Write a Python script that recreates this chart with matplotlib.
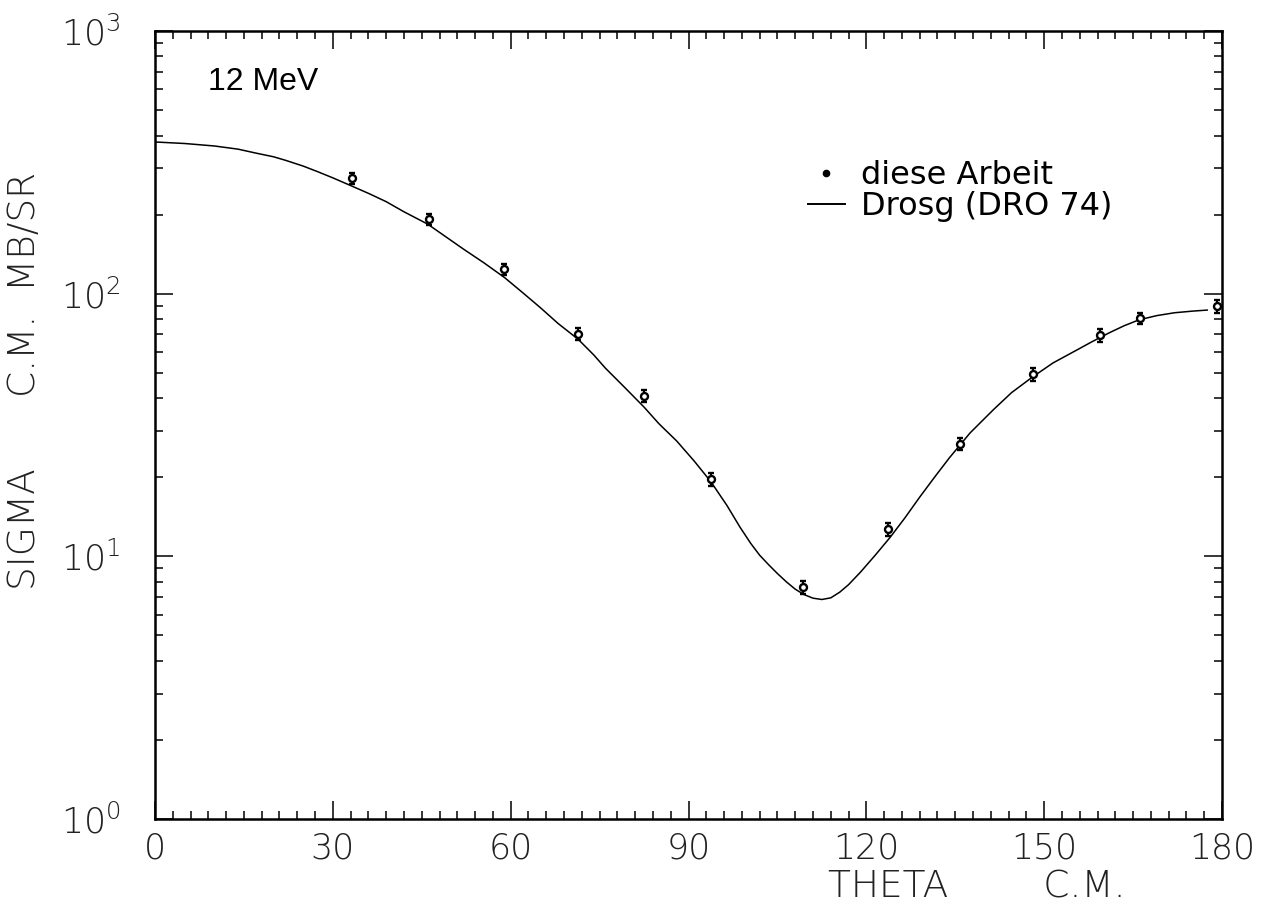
import math

import matplotlib
matplotlib.use("Agg")
import matplotlib.pyplot as plt
from matplotlib.lines import Line2D
from matplotlib.ticker import FixedLocator, LogLocator, NullFormatter, FuncFormatter

# measured cross sections, 12 MeV
theta = [33.2, 46.2, 58.9, 71.4, 82.5, 93.8, 109.3, 123.6, 135.8, 148.1, 159.4, 166.2, 179.2]
sigma = [275, 192, 124, 70.2, 40.8, 19.7, 7.64, 12.7, 26.8, 49.4, 69.5, 80.7, 89.7]
sigma_err = [13, 9, 6, 3.5, 2.2, 1.1, 0.45, 0.7, 1.5, 2.8, 3.8, 4.0, 5.0]

# Drosg (DRO 74) curve
curve_theta = [0, 5, 10, 14, 17, 20, 22, 25, 27.5, 30, 33, 36, 39, 42, 46, 49, 52, 55.5, 59,
               62, 65, 68, 71.4, 74, 76, 79, 82.5, 85, 88, 91, 93.8, 96.5, 98.7, 100.5,
               102, 103.5, 105, 106.5, 108, 109.5, 111, 112.5, 114, 115.5, 117, 119, 121.5,
               124, 126.5, 129, 131.5, 134, 137.5, 141.4, 144.5, 148, 151.5, 155.5, 158,
               161, 163.5, 166, 169, 172, 175, 177.5]
curve_sigma = [378, 373, 365, 355, 343, 332, 322, 306, 291, 276, 258, 241, 224, 205, 184,
               165, 148, 131, 115, 101, 88.5, 77, 67, 58.5, 52, 44.5, 37, 32, 27.5, 23,
               19.2, 15.6, 12.9, 11.2, 10.1, 9.3, 8.6, 8.0, 7.5, 7.15, 6.93, 6.85, 6.95,
               7.3, 7.8, 8.7, 10.1, 11.8, 14.0, 16.8, 20, 23.7, 29.5, 36.1, 42, 48.1, 54.5,
               61, 65.5, 71, 75.5, 79.5, 82.5, 84.6, 85.8, 86.6]

x_major = [0, 30, 60, 90, 120, 150, 180]
x_minor = list(range(0, 181, 3))

label_font = ["DejaVu Sans Condensed", "DejaVu Sans"]
ink = "#222222"

fig = plt.figure(figsize=(12.65, 9.22), dpi=100)
ax = fig.add_axes([155 / 1265, 1 - 819 / 922, (1222 - 155) / 1265, (819 - 31) / 922])

ax.plot(curve_theta, curve_sigma, color="black", lw=1.1)
ax.errorbar(theta, sigma, yerr=sigma_err, fmt="o", ms=5, mfc="white", mec="black",
            mew=1.7, ecolor="black", elinewidth=1.5, capsize=2.5, capthick=1.5)

ax.set_yscale("log")
ax.set_xlim(0, 180)
ax.set_ylim(1, 1000)

ax.xaxis.set_major_locator(FixedLocator(x_major))
ax.xaxis.set_minor_locator(FixedLocator(x_minor))
ax.yaxis.set_major_locator(LogLocator(base=10))
ax.yaxis.set_minor_locator(LogLocator(base=10, subs=range(2, 10)))
ax.yaxis.set_minor_formatter(NullFormatter())
ax.yaxis.set_major_formatter(FuncFormatter(lambda v, p: r"$\mathregular{10^{%d}}$" % round(math.log10(v))))

ax.tick_params(which="both", direction="in", top=True, right=True, width=1.1, color="black")
ax.tick_params(which="major", length=13)
ax.tick_params(which="minor", length=6)
ax.tick_params(axis="x", pad=9, labelsize=25, labelcolor=ink)
ax.tick_params(axis="y", pad=25, labelsize=25, labelcolor=ink)
for lab in ax.get_xticklabels() + ax.get_yticklabels():
    lab.set_fontfamily(label_font)
    lab.set_fontweight("light")

for side in ax.spines.values():
    side.set_linewidth(1.8)

ax.set_xlabel("THETA        C.M.", fontsize=27, family=label_font, fontweight="light",
              color=ink)
ax.xaxis.set_label_coords(0.77, -0.064)
ax.set_ylabel("SIGMA      C.M.  MB/SR", fontsize=27, family=label_font, fontweight="light",
              color=ink)
ax.yaxis.set_label_coords(-0.106, 0.556)

ax.text(0.05, 0.954, "12 MeV", transform=ax.transAxes, fontsize=23,
        family="Liberation Sans", va="top", ha="left")

handles = [
    Line2D([], [], marker="o", ls="none", ms=4.5, color="black"),
    Line2D([], [], color="black", lw=1.4),
]
ax.legend(handles, ["diese Arbeit", "Drosg (DRO 74)"], loc="upper left",
          bbox_to_anchor=(808 / 1265, 1 - 160 / 922), bbox_transform=fig.transFigure,
          frameon=False, prop={"family": "DejaVu Sans", "size": 23},
          handlelength=1.15, handletextpad=0.5, labelspacing=0.0, borderpad=0,
          borderaxespad=0)

fig.savefig("out.png", dpi=100)
